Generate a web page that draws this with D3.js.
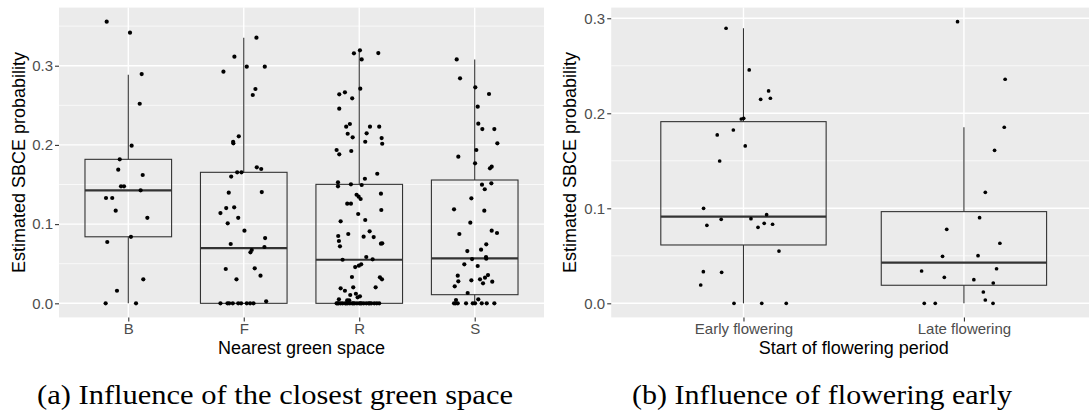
<!DOCTYPE html>
<html>
<head>
<meta charset="utf-8">
<script src="https://cdn.jsdelivr.net/npm/d3@7/dist/d3.min.js"></script>
<style>
  body { margin: 0; background: #ffffff; }
  svg { display: block; }
</style>
</head>
<body>
<div class="chart"></div>
<script>
        // categories and ticks
        var greenCats = ["B", "F", "R", "S"];
        var flowerCats = ["Early flowering", "Late flowering"];
        var yTicks = [0, 0.1, 0.2, 0.3];
        var yMinor = [0.05, 0.15, 0.25, 0.35];

        // estimated probabilities per group
        // jitter is the horizontal offset as a fraction of the category step
        var valsB = [0.3556, 0.3417, 0.2895, 0.252, 0.199, 0.1818, 0.1687, 0.162, 0.1477, 0.1477, 0.1427, 0.133, 0.133, 0.117, 0.108, 0.084, 0.0774, 0.0303, 0.0159, 0, 0];
        var jitB = [-0.187, 0.015, 0.116, 0.099, 0.029, -0.074, -0.087, 0.125, -0.063, -0.037, 0.107, -0.193, -0.139, -0.109, 0.165, 0.023, -0.182, 0.13, -0.098, -0.196, 0.067];

        var valsF = [0.2925, 0.3114, 0.2988, 0.3354, 0.2988, 0.2706, 0.263, 0.2108, 0.204, 0.202, 0.1717, 0.1696, 0.1654, 0.1654, 0.16, 0.1397, 0.1405, 0.114, 0.1203, 0.1212, 0.108, 0.101, 0.0917, 0.0824, 0.0749, 0.0711, 0.0673, 0.0644, 0.0433, 0.0442, 0.0349, 0.0303, 0.0025, 0, 0, 0, 0, 0, 0, 0, 0, 0];
        var jitF = [-0.176, -0.081, 0.026, 0.11, 0.182, 0.101, 0.078, -0.043, -0.092, -0.09, 0.113, 0.151, -0.057, -0.02, -0.109, -0.13, 0.156, -0.202, -0.152, -0.083, -0.048, -0.139, 0.006, 0.185, -0.113, 0.179, 0.069, 0.058, -0.156, 0.095, 0.145, -0.063, 0.194, -0.202, -0.141, -0.126, -0.095, -0.048, -0.023, 0.026, 0.055, 0.084];

        var valsR = [0.3157, 0.3194, 0.308, 0.316, 0.271, 0.2639, 0.2664, 0.2588, 0.2457, 0.223, 0.2264, 0.223, 0.223, 0.2141, 0.2146, 0.2096, 0.2087, 0.204, 0.2015, 0.1936, 0.1881, 0.1923, 0.1573, 0.1636, 0.1528, 0.1477, 0.1502, 0.1494, 0.1371, 0.1346, 0.1317, 0.1384, 0.1258, 0.1258, 0.1178, 0.1128, 0.1052, 0.1035, 0.0875, 0.0909, 0.085, 0.0841, 0.0837, 0.0787, 0.072, 0.0753, 0.0758, 0.0585, 0.0556, 0.055, 0.0458, 0.0475, 0.0492, 0.0332, 0.0328, 0.0303, 0.0189, 0.0159, 0.0202, 0.0202, 0.0105, 0.0121, 0.0076, 0.0088, 0.005, 0.0038, 0.0038,
            0, 0, 0, 0, 0, 0, 0, 0, 0, 0, 0, 0, 0, 0, 0, 0, 0, 0, 0, 0, 0, 0, 0, 0];
        var jitR = [-0.046, 0.006, 0.021, 0.165, 0.009, -0.173, -0.124, -0.061, -0.173, -0.113, -0.081, 0.093, 0.173, -0.1, 0.064, -0.057, 0.194, 0.052, 0.199, -0.196, -0.173, -0.069, 0.049, 0.156, -0.184, -0.184, -0.072, 0.021, -0.023, -0.005, 0.012, 0.188, -0.104, -0.072, 0.191, -0.009, 0.052, -0.161, -0.095, 0.09, -0.182, 0.038, 0.125, -0.176, -0.167, 0.188, 0.199, 0.061, 0.116, -0.144, -0.035, -0.003, 0.017, -0.063, 0.179, 0.197, -0.161, -0.124, -0.052, 0.142, -0.078, -0.029, -0.014, 0.006, -0.176, -0.104, -0.087,
            -0.196, -0.178, -0.161, -0.144, -0.121, -0.1, -0.081, -0.061, -0.04, -0.02, 0, 0.021, 0.061, 0.081, 0.104, 0.13, 0.173, -0.187, -0.113, -0.052, 0.039, 0.152, 0.01, 0.091];

        var valsS = [0.308, 0.2841, 0.2727, 0.2643, 0.2483, 0.2268, 0.22, 0.22, 0.202, 0.1851, 0.1936, 0.1768, 0.1705, 0.1725, 0.1498, 0.144, 0.1515, 0.1326, 0.1187, 0.117, 0.1018, 0.0875, 0.0917, 0.0888, 0.0745, 0.0677, 0.066, 0.0585, 0.0563, 0.0559, 0.0492, 0.0471, 0.0349, 0.0278, 0.0215, 0.029, 0.0303, 0.0324, 0.0357, 0.0253, 0.0273, 0.013, 0.005, 0.0042, 0, 0, 0, 0, 0, 0, 0, 0, 0];
        var jitS = [-0.156, -0.127, 0.005, 0.124, 0.026, 0.031, 0.066, 0.17, 0.196, -0.142, 0.014, 0.003, 0.132, 0.147, 0.063, 0.087, 0.144, -0.029, -0.179, 0.083, -0.038, -0.133, 0.147, 0.193, 0.1, 0.055, -0.064, 0.098, 0.1, -0.023, -0.09, 0.026, -0.147, -0.142, -0.173, -0.029, 0.046, 0.089, 0.115, 0.072, 0.152, -0.061, 0.031, -0.162, -0.179, -0.165, -0.147, -0.075, -0.017, 0.003, 0.061, 0.104, 0.17];

        var valsEarly = [0.2895, 0.2456, 0.2235, 0.2147, 0.2158, 0.194, 0.1947, 0.1824, 0.1772, 0.1656, 0.1498, 0.1, 0.0821, 0.0884, 0.0891, 0.08, 0.0842, 0.0933, 0.0832, 0.055, 0.0333, 0.0326, 0.0193, 0, 0, 0];
        var jitEarly = [-0.079, 0.026, 0.114, 0.078, 0.122, -0.01, 0.001, -0.046, -0.119, 0.008, -0.108, -0.181, -0.166, -0.101, 0.034, 0.066, 0.094, 0.105, 0.132, 0.161, -0.182, -0.099, -0.194, -0.043, 0.083, 0.194];

        var valsLate = [0.2964, 0.2358, 0.1853, 0.161, 0.1168, 0.0901, 0.0779, 0.0632, 0.0495, 0.0501, 0.0364, 0.034, 0.0274, 0.0249, 0.0214, 0.0119, 0.0035, 0, 0, 0];
        var jitLate = [-0.029, 0.187, 0.183, 0.139, 0.097, 0.071, -0.078, 0.163, -0.097, 0.064, 0.148, -0.192, -0.089, 0.045, 0.133, 0.088, 0.097, 0.132, -0.18, -0.13];

        // box stats: [lower whisker, Q1, median, Q3, upper whisker]
        var boxB = [0, 0.084, 0.1427, 0.1818, 0.2887];
        var boxF = [0, 0, 0.0698, 0.1654, 0.3354];
        var boxR = [0, 0, 0.055, 0.1502, 0.3194];
        var boxS = [0, 0.0109, 0.0568, 0.1557, 0.308];
        var boxEarly = [0, 0.0614, 0.0912, 0.1912, 0.2895];
        var boxLate = [0, 0.019, 0.0428, 0.0965, 0.1853];

        var width = 1089;
        var height = 412;
        var panelW = 485;
        var panelTop = 7.6;
        var panelBottom = 317.4;
        var sans = "'Liberation Sans', Arial, Helvetica, sans-serif";
        var serif = "'Liberation Serif', 'Times New Roman', serif";

        //set canvas
        var svg = d3.select(".chart")
            .append("svg")
            .attr("width", width)
            .attr("height", height)
            .style("font-family", sans);

        function drawPanel(opt) {
            var g = svg.append("g");

            //set X axis
            var x = d3.scalePoint()
                .domain(opt.cats)
                .range([opt.left, opt.left + panelW])
                .padding(0.6);
            var step = x.step();

            //set y axis, ggplot style 5% expansion
            var allVals = d3.merge(opt.vals);
            var lo = d3.min(allVals), hi = d3.max(allVals);
            var pad = (hi - lo) * 0.05;
            var y = d3.scaleLinear()
                .domain([lo - pad, hi + pad])
                .range([panelBottom, panelTop]);

            //panel background
            g.append("rect")
                .attr("x", opt.left)
                .attr("y", panelTop)
                .attr("width", panelW)
                .attr("height", panelBottom - panelTop)
                .attr("fill", "#EBEBEB");

            //grid lines
            g.selectAll(".minor")
                .data(yMinor.filter(function (d) { return d < hi + pad; }))
                .join("line")
                .attr("x1", opt.left).attr("x2", opt.left + panelW)
                .attr("y1", function (d) { return y(d); })
                .attr("y2", function (d) { return y(d); })
                .attr("stroke", "#ffffff")
                .attr("stroke-width", 0.7);
            g.selectAll(".major")
                .data(yTicks)
                .join("line")
                .attr("x1", opt.left).attr("x2", opt.left + panelW)
                .attr("y1", function (d) { return y(d); })
                .attr("y2", function (d) { return y(d); })
                .attr("stroke", "#ffffff")
                .attr("stroke-width", 1.4);
            g.selectAll(".vgrid")
                .data(opt.cats)
                .join("line")
                .attr("x1", function (d) { return x(d); })
                .attr("x2", function (d) { return x(d); })
                .attr("y1", panelTop).attr("y2", panelBottom)
                .attr("stroke", "#ffffff")
                .attr("stroke-width", 1.4);

            //axes
            var yAxis = g.append("g")
                .attr("transform", "translate(" + opt.left + ",0)")
                .call(d3.axisLeft(y).tickValues(yTicks).tickFormat(d3.format(".1f")).tickSize(4).tickPadding(2));
            var xAxis = g.append("g")
                .attr("transform", "translate(0," + panelBottom + ")")
                .call(d3.axisBottom(x).tickSize(4).tickPadding(2));
            [yAxis, xAxis].forEach(function (a) {
                a.select(".domain").remove();
                a.selectAll(".tick line").attr("stroke", "#333333").attr("stroke-width", 1.1);
                a.selectAll(".tick text")
                    .attr("fill", "#4D4D4D")
                    .style("font-family", sans)
                    .style("font-size", "15px");
            });

            //boxplots
            var boxes = g.selectAll(".box")
                .data(opt.cats)
                .join("g");
            boxes.each(function (c, i) {
                var b = opt.boxes[i];
                var cx = x(c);
                var bw = step * 0.75;
                var bg = d3.select(this);
                bg.append("line")
                    .attr("x1", cx).attr("x2", cx)
                    .attr("y1", y(b[4])).attr("y2", y(b[3]))
                    .attr("stroke", "#333333").attr("stroke-width", 1.1);
                bg.append("line")
                    .attr("x1", cx).attr("x2", cx)
                    .attr("y1", y(b[1])).attr("y2", y(b[0]))
                    .attr("stroke", "#333333").attr("stroke-width", 1.1);
                bg.append("rect")
                    .attr("x", cx - bw / 2)
                    .attr("y", y(b[3]))
                    .attr("width", bw)
                    .attr("height", y(b[1]) - y(b[3]))
                    .attr("fill", "none")
                    .attr("stroke", "#333333")
                    .attr("stroke-width", 1.1);
                bg.append("line")
                    .attr("x1", cx - bw / 2).attr("x2", cx + bw / 2)
                    .attr("y1", y(b[2])).attr("y2", y(b[2]))
                    .attr("stroke", "#333333").attr("stroke-width", 2.2);
            });

            //jittered points
            opt.cats.forEach(function (c, i) {
                var pts = opt.vals[i].map(function (v, j) {
                    return { cat: c, value: v, jit: opt.jits[i][j] };
                });
                g.append("g").selectAll("circle")
                    .data(pts)
                    .join("circle")
                    .attr("cx", function (d) { return x(d.cat) + d.jit * step; })
                    .attr("cy", function (d) { return y(d.value); })
                    .attr("r", opt.r)
                    .attr("fill", "#000000");
            });

            //axis titles
            g.append("text")
                .attr("transform", "translate(" + opt.titleX + "," + ((panelTop + panelBottom) / 2) + ") rotate(-90)")
                .attr("text-anchor", "middle")
                .style("font-size", "18px")
                .attr("fill", "#000000")
                .text("Estimated SBCE probability");
            g.append("text")
                .attr("x", opt.left + panelW / 2)
                .attr("y", 354)
                .attr("text-anchor", "middle")
                .style("font-size", "18px")
                .attr("fill", "#000000")
                .text(opt.xTitle);

            //caption
            g.append("text")
                .attr("x", opt.capX)
                .attr("y", 404)
                .attr("text-anchor", "middle")
                .style("font-family", serif)
                .style("font-size", "27px")
                .attr("fill", "#000000")
                .attr("textLength", opt.capW)
                .attr("lengthAdjust", "spacingAndGlyphs")
                .text(opt.caption);
        }

        drawPanel({
            left: 59, cats: greenCats,
            vals: [valsB, valsF, valsR, valsS],
            jits: [jitB, jitF, jitR, jitS],
            boxes: [boxB, boxF, boxR, boxS],
            r: 2.1, titleX: 25,
            xTitle: "Nearest green space",
            caption: "(a) Influence of the closest green space",
            capX: 275, capW: 476
        });

        drawPanel({
            left: 611.2, cats: flowerCats,
            vals: [valsEarly, valsLate],
            jits: [jitEarly, jitLate],
            boxes: [boxEarly, boxLate],
            r: 1.85, titleX: 576,
            xTitle: "Start of flowering period",
            caption: "(b) Influence of flowering early",
            capX: 822, capW: 380
        });
</script>
</body>
</html>
